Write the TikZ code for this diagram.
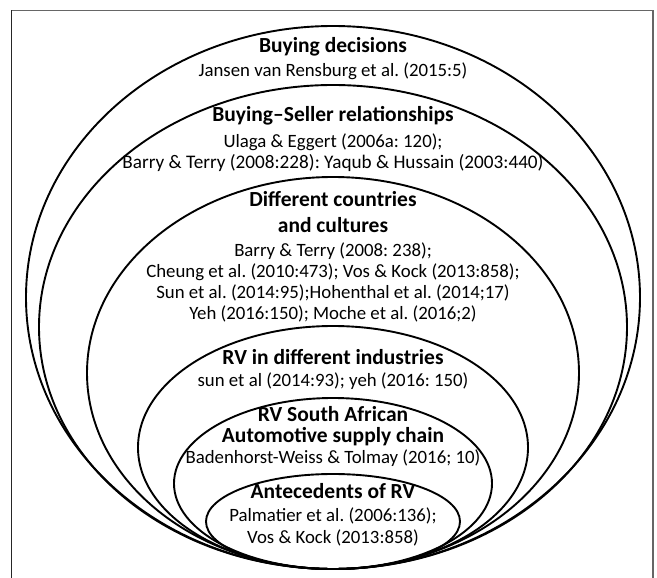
\documentclass[tikz,border=0pt]{standalone}
\usepackage{fontspec}
\setmainfont{Carlito}
\usetikzlibrary{shapes.geometric}
\frenchspacing
\begin{document}
\begin{tikzpicture}[x=1pt,y=-1pt,
  ring/.style={draw=black,line width=1.9pt,ellipse,inner sep=0pt},
  ttl/.style={anchor=base,inner sep=0pt,font=\bfseries\fontsize{21.5}{24}\selectfont},
  cit/.style={anchor=base,inner sep=0pt,font=\fontsize{18.8}{21}\selectfont},
  frame/.style={line width=1.3pt}]
\useasboundingbox (0,0) rectangle (657,578);
% frame
\coordinate (fa) at (11.5,578);
\coordinate (fb) at (11.5,10.5);
\coordinate (fc) at (653,10.5);
\coordinate (fd) at (653,578);
\draw[frame,draw=black!60] (fb) -- (fc) -- (fd);
\draw[frame,draw=black!85] (fa) -- (fb);
% nested ellipses, all tangent at bottom (y=569)
\node[ring,minimum width=614pt,minimum height=543pt] (e1) at (333,297.5) {};
\node[ring,minimum width=588pt,minimum height=484pt] (e2) at (333,327) {};
\node[ring,minimum width=492pt,minimum height=392pt] (e3) at (333,373) {};
\node[ring,minimum width=390pt,minimum height=243pt] (e4) at (333,447.5) {};
\node[ring,minimum width=318pt,minimum height=171pt] (e5) at (333,483.5) {};
\node[ring,minimum width=254pt,minimum height=95pt] (e6) at (333,521.5) {};
% texts
\node[ttl] (t1) at (333,53) {Buying decisions};
\node[cit] (c1) at (333,77) {Jansen van Rensburg et al. (2015:5)};
\node[ttl] (t2) at (333,122) {Buying–Seller relationships};
\node[cit] (c2a) at (333,147) {Ulaga \& Eggert (2006a: 120);};
\node[cit,font=\fontsize{19.2}{21}\selectfont] (c2b) at (333,168) {Barry \& Terry (2008:228): Yaqub \& Hussain (2003:440)};
\node[ttl] (t3a) at (333,207) {Different countries};
\node[ttl] (t3b) at (333,232) {and cultures};
\node[cit] (c3a) at (333,256) {Barry \& Terry (2008: 238);};
\node[cit] (c3b) at (333,277) {Cheung et al. (2010:473); Vos \& Kock (2013:858);};
\node[cit] (c3c) at (333,298) {Sun et al. (2014:95);Hohenthal et al. (2014;17)};
\node[cit] (c3d) at (333,319) {Yeh (2016:150); Moche et al. (2016;2)};
\node[ttl] (t4) at (333,364) {RV in different industries};
\node[cit] (c4) at (333,386) {sun et al (2014:93); yeh (2016: 150)};
\node[ttl] (t5a) at (333,421) {RV South African};
\node[ttl] (t5b) at (333,442) {Automotive supply chain};
\node[cit] (c5) at (333,463) {Badenhorst-Weiss \& Tolmay (2016; 10)};
\node[ttl] (t6) at (333,498) {Antecedents of RV};
\node[cit] (c6a) at (333,521) {Palmatier et al. (2006:136);};
\node[cit] (c6b) at (333,543) {Vos \& Kock (2013:858)};
\end{tikzpicture}
\end{document}
